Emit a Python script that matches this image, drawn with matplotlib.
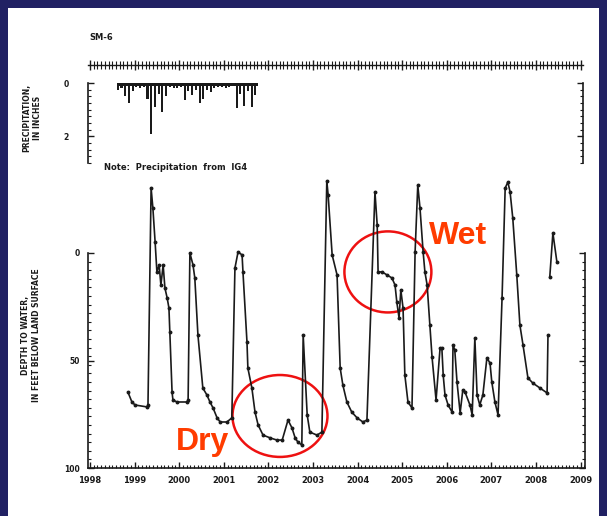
import matplotlib
matplotlib.use("Agg")
import matplotlib.pyplot as plt
from matplotlib.patches import Ellipse, Rectangle
from matplotlib.ticker import MultipleLocator
import numpy as np

# depth to water, feet below land surface (decimal years)
years = [1998.85, 1998.94, 1999.01, 1999.28, 1999.30, 1999.37, 1999.41, 1999.46,
         1999.50, 1999.55, 1999.59, 1999.64, 1999.68, 1999.73, 1999.77, 1999.79,
         1999.84, 1999.86, 1999.95, 2000.18, 2000.20, 2000.24, 2000.31, 2000.35,
         2000.42, 2000.53, 2000.62, 2000.69, 2000.76, 2000.85, 2000.92, 2001.07,
         2001.18, 2001.25, 2001.32, 2001.41, 2001.43, 2001.52, 2001.54, 2001.63,
         2001.70, 2001.77, 2001.88, 2002.04, 2002.19, 2002.31, 2002.44, 2002.53,
         2002.60, 2002.66, 2002.75, 2002.78, 2002.87, 2002.93, 2003.09, 2003.20,
         2003.31, 2003.34, 2003.43, 2003.54, 2003.61, 2003.67, 2003.76, 2003.87,
         2003.99, 2004.12, 2004.21, 2004.39, 2004.44, 2004.46, 2004.55, 2004.66,
         2004.77, 2004.84, 2004.88, 2004.93, 2004.97, 2005.02, 2005.06, 2005.13,
         2005.22, 2005.29, 2005.35, 2005.40, 2005.47, 2005.51, 2005.56, 2005.62,
         2005.67, 2005.76, 2005.85, 2005.89, 2005.92, 2005.96, 2006.03, 2006.12,
         2006.14, 2006.18, 2006.23, 2006.30, 2006.36, 2006.41, 2006.52, 2006.57,
         2006.63, 2006.68, 2006.74, 2006.81, 2006.90, 2006.97, 2007.01, 2007.08,
         2007.15, 2007.24, 2007.31, 2007.37, 2007.42, 2007.48, 2007.57, 2007.64,
         2007.71, 2007.82, 2007.93, 2008.09, 2008.25, 2008.27, 2008.29, 2008.31,
         2008.38, 2008.47]
depth = [64.7, 69.3, 70.7, 71.6, 70.7, -30.2, -20.9, -5.1,
         8.8, 5.6, 14.9, 5.6, 16.3, 20.9, 25.6, 36.7,
         64.7, 68.4, 69.3, 69.3, 68.4, 0.0, 5.6, 11.6,
         38.1, 62.8, 66.0, 69.3, 72.1, 76.7, 78.6, 78.6,
         76.7, 7.0, -0.5, 0.9, 8.8, 41.4, 53.5, 62.8,
         74.0, 80.0, 84.7, 86.0, 87.0, 87.0, 77.7, 81.4,
         86.0, 87.9, 89.3, 38.1, 75.3, 83.3, 84.7, 83.3,
         -33.5, -27.0, 0.9, 10.2, 53.5, 61.4, 69.3, 74.0,
         76.7, 78.6, 77.7, -28.4, -13.0, 8.8, 8.8, 10.2,
         11.6, 14.9, 22.8, 30.2, 17.2, 25.6, 56.7, 69.3,
         72.1, -0.5, -31.6, -20.9, -0.5, 8.8, 14.9, 33.5,
         48.4, 68.4, 44.2, 44.2, 56.7, 66.0, 70.7, 74.0,
         42.8, 45.1, 60.0, 74.4, 63.7, 64.7, 70.7, 75.3,
         39.5, 66.0, 70.7, 66.0, 48.8, 51.2, 60.0, 69.3,
         75.3, 20.9, -30.2, -33.0, -28.4, -16.3, 10.2, 33.5,
         42.8, 58.1, 60.5, 62.8, 65.1, 38.1, np.nan, 11.2,
         -9.3, 4.2]

# monthly precipitation, inches, starting Aug 1998
precip_start = 1998.6
precip = [0.26, 0.2, 0.5, 0.75, 0.3, 0.15, 0.2, 0.15, 0.6, 1.9,
          0.9, 0.4, 1.1, 0.5, 0.15, 0.2, 0.2, 0.15, 0.65, 0.3,
          0.45, 0.25, 0.75, 0.6, 0.25, 0.35, 0.2, 0.15, 0.15, 0.2,
          0.15, 0.12, 0.95, 0.4, 0.85, 0.3, 0.9, 0.45]

year_labels = [str(y) for y in range(1998, 2010)]

# annotation ellipses: (center year, center depth, width yr, height ft)
dry_ellipse = (2002.26, 75.8, 2.13, 38.1)
wet_ellipse = (2004.68, 8.8, 1.95, 37.7)
dry_text = (2000.53, 87.9)
wet_text = (2006.25, -7.9)

W, H = 607, 516
navy = "#212163"
ink = "#1a1a1a"
red = "#ff3c00"

fig = plt.figure(figsize=(W / 100, H / 100), dpi=100, facecolor=navy)
fig.add_artist(Rectangle((8 / W, -0.05), (599 - 8) / W, 0.05 + (H - 8) / H,
                         transform=fig.transFigure, facecolor="white",
                         edgecolor="none", zorder=-10))


def fx(px):
    return px / W


def fy(py):
    return 1 - py / H


xmin, xmax = 1997.955, 2009.1
small = dict(fontsize=5.5, fontweight="bold", color=ink)

# main hydrograph
ax = fig.add_axes([fx(88), fy(468), fx(585) - fx(88), (468 - 175.6) / H])
ax.set_facecolor("none")
ax.plot(years, depth, color=ink, lw=1.2, marker="o", ms=1.8, clip_on=False)
ax.set_xlim(xmin, xmax)
ax.set_ylim(100, -36)
ax.spines["top"].set_visible(False)
ax.spines["left"].set_bounds(0, 100)
ax.spines["right"].set_bounds(0, 100)
for s in ax.spines.values():
    s.set_linewidth(1.2)
    s.set_color(ink)
ax.set_yticks([0, 50, 100])
ax.set_yticklabels(["0", "50", "100"], **small)
ax.set_yticks([v for v in np.arange(0, 101, 4)], minor=True)
ax.set_xticks(range(1998, 2010))
ax.set_xticklabels(year_labels, fontsize=6, fontweight="bold", color=ink)
ax.xaxis.set_minor_locator(MultipleLocator(1 / 12))
ax.tick_params(which="both", direction="in", color=ink, right=True)
ax.tick_params(which="major", length=4, width=1, pad=6)
ax.tick_params(which="minor", length=2.5, width=0.8)

ax.add_patch(Ellipse(dry_ellipse[:2], dry_ellipse[2], dry_ellipse[3],
                     fill=False, edgecolor="#ee1111", lw=1.8, clip_on=False))
ax.add_patch(Ellipse(wet_ellipse[:2], wet_ellipse[2], wet_ellipse[3],
                     fill=False, edgecolor="#ee1111", lw=1.8, clip_on=False))
ax.text(*dry_text, "Dry", color=red, fontsize=23, fontweight="bold",
        family="Liberation Sans", ha="center", va="center", clip_on=False)
ax.text(*wet_text, "Wet", color=red, fontsize=23, fontweight="bold",
        family="Liberation Sans", ha="center", va="center", clip_on=False)

# precipitation panel
axp = fig.add_axes([fx(88), fy(163), fx(583) - fx(88), (163 - 83) / H])
axp.set_facecolor("none")
px = [precip_start + i / 12 for i in range(len(precip))]
axp.bar(px, precip, width=1 / 12 * 0.55, align="edge", color=ink)
axp.bar(px, [0.12] * len(precip), width=1 / 12, align="edge", color=ink)
axp.set_xlim(xmin, xmax - 0.045)
axp.set_ylim(3, 0)
axp.spines["top"].set_visible(False)
axp.spines["bottom"].set_visible(False)
for s in ("left", "right"):
    axp.spines[s].set_linewidth(1.2)
    axp.spines[s].set_color(ink)
axp.set_xticks([])
axp.set_yticks([0, 2])
axp.set_yticklabels(["0", "2"], **small)
axp.yaxis.set_minor_locator(MultipleLocator(0.25))
axp.tick_params(which="both", direction="in", color=ink, right=True)
axp.tick_params(which="major", length=4, width=1, pad=14)
axp.tick_params(which="minor", length=2.5, width=0.8)

# monthly tick ribbon on top
axr = fig.add_axes([fx(88), fy(65), fx(583) - fx(88), 0.0001])
axr.set_facecolor("none")
for s in ("top", "left", "right"):
    axr.spines[s].set_visible(False)
axr.spines["bottom"].set_linewidth(1.0)
axr.spines["bottom"].set_color(ink)
axr.set_xlim(xmin, xmax - 0.045)
axr.set_yticks([])
axr.set_xticks(range(1998, 2010))
axr.set_xticklabels([])
axr.xaxis.set_minor_locator(MultipleLocator(1 / 12))
axr.tick_params(which="both", direction="inout", color=ink)
axr.tick_params(which="major", length=7, width=1)
axr.tick_params(which="minor", length=6, width=0.8)

fig.text(fx(89), fy(38), "SM-6", fontsize=6, fontweight="bold", color=ink,
         va="center")
fig.text(fx(104), fy(168), "Note:  Precipitation  from  IG4", fontsize=6,
         fontweight="bold", color=ink, va="center")
fig.text(fx(32), fy(118), "PRECIPITATION,\nIN INCHES", rotation=90,
         ha="center", va="center", multialignment="center", **small)
fig.text(fx(31), fy(335), "DEPTH TO WATER,\nIN FEET BELOW LAND SURFACE",
         rotation=90, ha="center", va="center", multialignment="center",
         **small)

fig.savefig("out.png", dpi=100, facecolor=navy)
